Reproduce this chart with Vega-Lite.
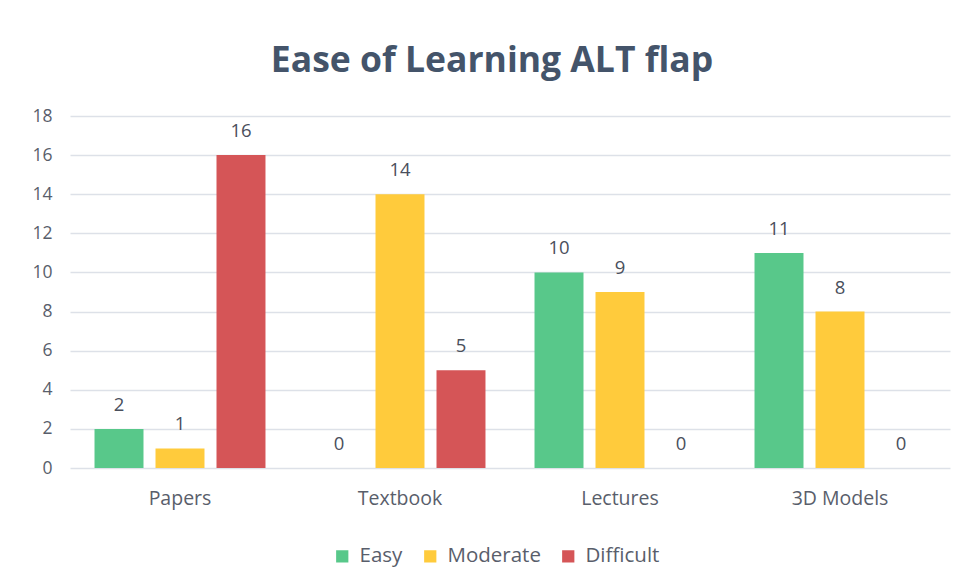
{
  "$schema": "https://vega.github.io/schema/vega-lite/v6.json",
  "width": 880,
  "height": 352,
  "autosize": {"type": "none"},
  "padding": {"left": 70, "top": 116, "right": 19, "bottom": 120},
  "background": "white",
  "config": {"view": {"stroke": null}},
  "title": {
    "text": "Ease of Learning ALT flap",
    "font": "Open Sans",
    "fontSize": 35.5,
    "fontWeight": "bold",
    "color": "#44546A",
    "anchor": "middle",
    "dx": -18,
    "offset": 28
  },
  "data": {
    "values": [
      {"source": "Papers", "level": "Easy", "count": 2},
      {"source": "Papers", "level": "Moderate", "count": 1},
      {"source": "Papers", "level": "Difficult", "count": 16},
      {"source": "Textbook", "level": "Easy", "count": 0},
      {"source": "Textbook", "level": "Moderate", "count": 14},
      {"source": "Textbook", "level": "Difficult", "count": 5},
      {"source": "Lectures", "level": "Easy", "count": 10},
      {"source": "Lectures", "level": "Moderate", "count": 9},
      {"source": "Lectures", "level": "Difficult", "count": 0},
      {"source": "3D Models", "level": "Easy", "count": 11},
      {"source": "3D Models", "level": "Moderate", "count": 8},
      {"source": "3D Models", "level": "Difficult", "count": 0}
    ]
  },
  "encoding": {
    "x": {
      "field": "source",
      "type": "nominal",
      "sort": ["Papers", "Textbook", "Lectures", "3D Models"],
      "scale": {"paddingInner": 0, "paddingOuter": 0},
      "axis": {
        "title": null,
        "labelAngle": 0,
        "labelFont": "Open Sans",
        "labelFontSize": 19.5,
        "labelColor": "#595E6B",
        "labelPadding": 21,
        "domain": false,
        "ticks": false,
        "grid": false
      }
    },
    "xOffset": {
      "field": "level",
      "type": "nominal",
      "sort": ["Easy", "Moderate", "Difficult"],
      "scale": {"paddingInner": 0.197, "paddingOuter": 0.402}
    },
    "y": {
      "field": "count",
      "type": "quantitative",
      "scale": {"domain": [0, 18]},
      "axis": {
        "title": null,
        "values": [0, 2, 4, 6, 8, 10, 12, 14, 16, 18],
        "labelFont": "Open Sans",
        "labelFontSize": 17.5,
        "labelColor": "#595E6B",
        "labelPadding": 18,
        "domain": false,
        "ticks": false,
        "gridColor": "#DDE1E8",
        "gridWidth": 1.3
      }
    }
  },
  "layer": [
    {
      "mark": {"type": "bar"},
      "encoding": {
        "color": {
          "field": "level",
          "type": "nominal",
          "sort": ["Easy", "Moderate", "Difficult"],
          "scale": {"domain": ["Easy", "Moderate", "Difficult"], "range": ["#58C88A", "#FFCB3C", "#D55557"]},
          "legend": {
            "title": null,
            "orient": "none",
            "legendX": 262,
            "legendY": 430,
            "direction": "horizontal",
            "symbolType": "square",
            "symbolSize": 150,
            "symbolStrokeWidth": 0,
            "labelFont": "Open Sans",
            "labelFontSize": 20.5,
            "labelColor": "#595E6B",
            "columnPadding": 17,
            "labelOffset": 7
          }
        }
      }
    },
    {
      "mark": {"type": "text", "dy": -14, "baseline": "bottom", "font": "Open Sans", "fontSize": 18.5, "color": "#4A4F5C"},
      "encoding": {
        "text": {"field": "count", "type": "quantitative"}
      }
    }
  ]
}
